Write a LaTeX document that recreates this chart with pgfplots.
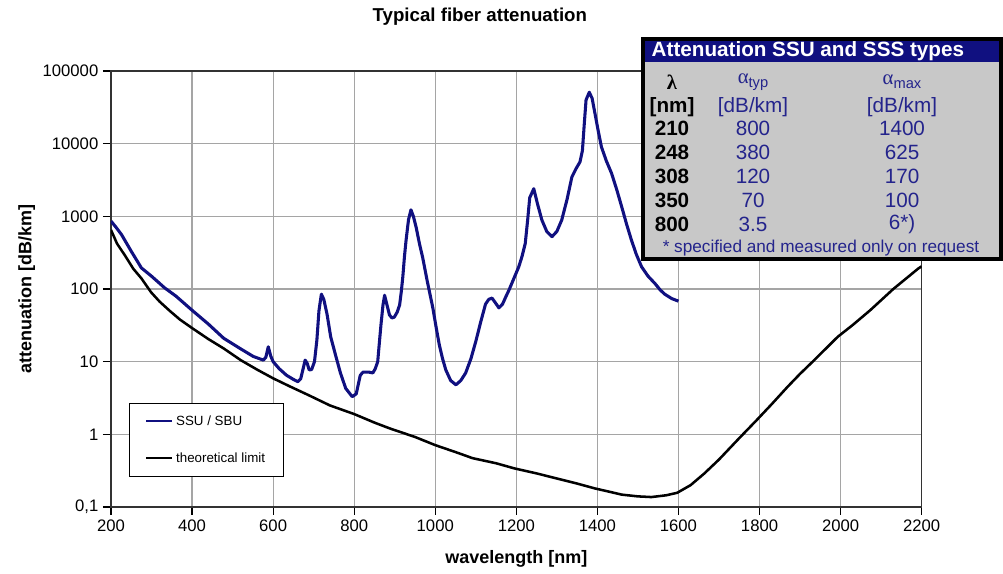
\documentclass[border=0pt]{standalone}
\usepackage{pgfplots}
\pgfplotsset{compat=1.18}
\usepackage{fontspec}
\setmainfont{Liberation Sans}
\newfontfamily\greek{Liberation Serif}
\definecolor{navy}{RGB}{16,16,128}
\definecolor{tabtext}{RGB}{36,36,140}
\definecolor{tabgray}{RGB}{200,200,200}
\definecolor{gridgray}{RGB}{165,165,165}

\begin{document}
\begin{tikzpicture}
\useasboundingbox (-83.25pt,-50.25pt) rectangle (669pt,380.25pt);
\begin{axis}[
    at={(0,0)}, anchor=south west,
    scale only axis, width=608pt, height=327pt,
    xmin=200, xmax=2200,
    ymode=log, ymin=0.1, ymax=100000,
    xtick={200,400,...,2200},
    ytick={0.1,1,10,100,1000,10000,100000},
    yticklabels={{0,1},1,10,100,1000,10000,100000},
    yminorticks=false,
    /pgf/number format/assume math mode=true,
    /pgf/number format/1000 sep={},
    tick label style={font=\fontsize{12.5}{14}\selectfont},
    tick align=outside, tick pos=left,
    major tick length=6pt,
    tick style={black, line width=0.9pt},
    axis line style={black!80, line width=1.1pt},
    grid=major,
    grid style={gridgray, line width=0.9pt},
    title={Typical fiber attenuation},
    title style={at={(axis description cs:0.455,1.1055)}, anchor=center, yshift=0pt,
        font=\bfseries\fontsize{14}{16}\selectfont},
    xlabel={wavelength [nm]},
    ylabel={attenuation [dB/km]},
    xlabel style={at={(axis description cs:0.5,-0.118)}, anchor=center,
        font=\bfseries\fontsize{13.5}{16}\selectfont},
    ylabel style={at={(axis description cs:-0.104,0.5)}, anchor=center,
        font=\bfseries\fontsize{13.5}{16}\selectfont},
    legend style={at={(axis description cs:0.0222,0.2385)}, anchor=north west,
        draw=black, line width=0.6pt, fill=white,
        font=\fontsize{10}{12}\selectfont,
        inner xsep=12pt, inner ysep=7pt, row sep=15pt,
        cells={anchor=west}},
    legend image code/.code={\draw[#1, line width=1.6pt] (0pt,0pt) -- (19.5pt,0pt);},
]
% SSU / SBU measured curve
\addplot[navy, line width=2.3pt, line join=round] coordinates {
(200,860) (213,700) (226,560) (250,330) (275,195) (300,150) (332,104)
(360,80) (400,51) (440,33) (478,21) (520,15) (551,11.8) (576,10.5)
(582,11.5) (588,16) (594,12) (600,10) (615,8) (633,6.5) (650,5.7)
(661,5.3) (668,5.8) (674,8) (679,10.5) (684,9.5) (689,7.7) (695,7.8)
(702,10) (708,20) (713,50) (719,85) (725,72) (733,45) (742,22)
(754,12.3) (766,7) (779,4.3) (795,3.3) (805,3.6) (815,6.5) (822,7.2)
(835,7.2) (846,7) (852,8) (858,10) (862,18) (866,32) (871,60) (875,82)
(881,60) (887,44) (893,40) (899,41) (906,48) (912,60) (916,90) (920,148)
(924,280) (928,470) (934,900) (940,1230) (946,1000) (953,700) (961,420)
(969,270) (980,130) (994,55) (1002,30) (1010,17) (1018,11) (1026,7.7)
(1038,5.5) (1051,4.8) (1063,5.5) (1075,7) (1088,11) (1100,19) (1112,35)
(1124,62) (1132,72) (1140,75) (1148,65) (1157,55) (1166,62) (1174,78)
(1182,97) (1194,140) (1206,202) (1214,280) (1222,424) (1228,900)
(1233,1800) (1243,2400) (1252,1500) (1263,890) (1275,620) (1288,525)
(1300,620) (1312,890) (1325,1700) (1337,3470) (1347,4500) (1357,5600)
(1363,8000) (1368,20000) (1372,40000) (1380,51000) (1387,42000)
(1394,26000) (1402,15000) (1410,9000) (1422,5800) (1435,3900)
(1448,2300) (1460,1350) (1472,780) (1484,470) (1496,300) (1509,202)
(1525,150) (1542,119) (1555,97) (1566,85) (1583,74) (1600,68)
};
\addlegendentry{SSU / SBU}
% theoretical limit
\addplot[black, line width=1.9pt, line join=round] coordinates {
(200,650) (215,420) (234,292) (255,190) (275,140) (299,90) (320,67)
(345,50) (370,38) (400,29) (440,20.5) (478,15.2) (520,10.5)
(560,7.8) (600,5.9) (640,4.6) (687,3.47) (740,2.5) (800,1.9) (850,1.45)
(887,1.21) (950,0.92) (1000,0.71) (1050,0.57) (1092,0.47) (1150,0.40)
(1195,0.34) (1250,0.29) (1296,0.25) (1350,0.21) (1394,0.18) (1430,0.162)
(1460,0.148) (1500,0.14) (1533,0.137) (1570,0.145) (1597,0.157)
(1630,0.2) (1664,0.29) (1700,0.45) (1746,0.84) (1793,1.57) (1830,2.6)
(1869,4.5) (1900,6.8) (1935,10.5) (1993,22) (2030,32) (2073,51)
(2130,100) (2192,192) (2200,205)
};
\addlegendentry{theoretical limit}
\end{axis}

% specification table, placed in pixel units of the reference
\begin{scope}[x=0.75pt, y=-0.75pt, shift={(-111,-507)}]
\fill[tabgray] (643,39) rectangle (1001,259);
\fill[navy] (643,39) rectangle (1001,62);
\draw[black, line width=3pt] (643,39) rectangle (1001,259);
\node[anchor=west, text=white, font=\bfseries\fontsize{15.5}{18}\selectfont]
    at (647,51) {Attenuation SSU and SSS types};
\begin{scope}[every node/.style={font=\fontsize{15.5}{18}\selectfont, text=tabtext}]
\node[text=black] at (672,82) {\greek\bfseries λ};
\node at (753,82) {{\greek α}\raisebox{-0.35ex}{\fontsize{11}{12}\selectfont typ}};
\node at (902,82) {{\greek α}\raisebox{-0.35ex}{\fontsize{11}{12}\selectfont max}};
\node[text=black, font=\bfseries\fontsize{15.5}{18}\selectfont] at (672,107) {[nm]};
\node at (753,107) {[dB/km]};
\node at (902,107) {[dB/km]};
\foreach \l/\a/\b [count=\i] in {210/800/1400, 248/380/625, 308/120/170, 350/70/100, 800/3.5/6*)} {
  \node[text=black, font=\bfseries\fontsize{15.5}{18}\selectfont] at (672,105+23.8*\i) {\l};
  \node at (753,105+23.8*\i) {\a};
  \node at (902,105+23.8*\i) {\b};
}
\end{scope}
\node[text=tabtext, font=\fontsize{12.9}{14}\selectfont] at (821,248)
    {* specified and measured only on request};
\end{scope}
\end{tikzpicture}
\end{document}
